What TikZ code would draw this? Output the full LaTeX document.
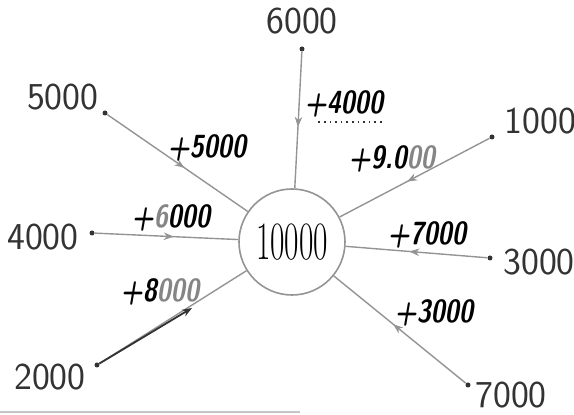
\documentclass[tikz,border=0pt]{standalone}
\usepackage{fontspec}
\usepackage{tikz}
\usetikzlibrary{arrows.meta,positioning,decorations.markings}
\definecolor{pencil}{rgb}{0.2,0.2,0.2}
\definecolor{spokegray}{rgb}{0.58,0.58,0.58}
\definecolor{fadedink}{rgb}{0.52,0.52,0.52}
\newcommand{\marker}[1]{\scalebox{0.8}[1]{#1}}
\tikzset{
  >={Stealth[length=5pt]},
  hub/.style={circle,draw=spokegray,line width=0.8pt,minimum size=53pt,inner sep=0pt,font=\rmfamily\fontsize{27}{27}\selectfont},
  dot/.style={circle,fill=pencil,inner sep=0pt,minimum size=2.5pt},
  num/.style={inner sep=0pt,text=pencil,font=\sffamily\fontsize{19}{19}\selectfont},
  gain/.style={inner sep=0pt,font=\sffamily\bfseries\itshape\fontsize{16}{16}\selectfont},
  spoke/.style={draw=spokegray,line width=0.7pt},
  flow/.style={spoke,postaction={decorate},decoration={markings,mark=at position 0.55 with {\arrow[spokegray]{>}}}},
  ink/.style={->,draw=pencil,line width=0.9pt}
}

\begin{document}
\begin{tikzpicture}[x=0.5pt,y=-0.5pt]
  \useasboundingbox (0,0) rectangle (574,415);

  % centre
  \node[hub] (c) at (292,242) {\scalebox{0.58}[1]{10000}};

  % outer points
  \node[dot] (p6) at (302,49) {};
  \node[dot] (p5) at (105,113) {};
  \node[dot] (p1) at (492,137) {};
  \node[dot] (p4) at (92,233) {};
  \node[dot] (p3) at (490,258) {};
  \node[dot] (p2) at (97,365) {};
  \node[dot] (p7) at (468,385) {};
  \coordinate (m2) at (192,308);

  % outer values
  \node[num,above=6pt of p6] (n6) {6000};
  \node[num,above left=0pt and 2pt of p5] (n5) {5000};
  \node[num,above right=0pt and 5pt of p1] (n1) {1000};
  \node[num,left=5pt of p4,yshift=-2pt] (n4) {4000};
  \node[num,right=5pt of p3,yshift=-2pt] (n3) {3000};
  \node[num,left=4pt of p2,yshift=-6pt] (n2) {2000};
  \node[num,right=2pt of p7,yshift=-5pt] (n7) {7000};

  % spokes
  \draw[flow] (p6) -- (c);
  \draw[flow] (p5) -- (c);
  \draw[flow] (p1) -- (c);
  \draw[flow] (p4) -- (c);
  \draw[flow] (p3) -- (c);
  \draw[spoke] (p2) -- (c);
  \draw[flow] (p7) -- (c);
  \draw[ink] (p2) -- (m2);

  % gains
  \node[gain] (l4) at (344,104) {\marker{+4000}};
  \node[gain] (l5) at (207,148) {\marker{+5000}};
  \node[gain] (l9) at (392,159) {\marker{+9.0\textcolor{fadedink}{00}}};
  \node[gain] (l6) at (171,218) {\marker{+\textcolor{fadedink}{6}000}};
  \node[gain] (l7) at (427,235) {\marker{+7000}};
  \node[gain] (l8) at (160,292) {\marker{+8\textcolor{fadedink}{000}}};
  \node[gain] (l3) at (434,313) {\marker{+3000}};
  \draw[pencil,dotted,line width=0.8pt] ([xshift=7pt,yshift=-2pt]l4.south west) -- ([yshift=-2pt]l4.south east);

  % scan edge
  \draw[gray!45,line width=1.2pt] (0,412) -- (300,412);
\end{tikzpicture}
\end{document}
